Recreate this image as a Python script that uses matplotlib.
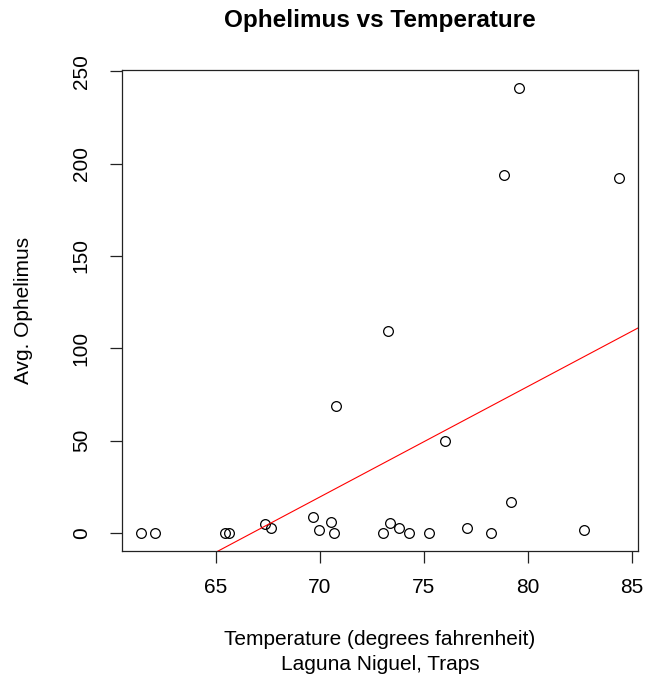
import matplotlib
matplotlib.use('Agg')
import matplotlib.pyplot as plt
import numpy as np

plt.rcParams['font.family'] = ['Liberation Sans', 'DejaVu Sans']

# average trap counts against temperature
temp = [61.39, 62.06, 65.45, 65.64, 67.34, 67.62, 69.67, 69.94, 70.54, 70.70,
        70.78, 73.03, 73.37, 73.80, 74.30, 75.27, 76.00, 77.10, 78.22, 79.18,
        82.72, 73.30, 78.85, 79.57, 84.39]
ophelimus = [0, 0, 0, 0, 5.1, 2.7, 8.5, 1.6, 6.3, 0,
             69, 0, 5.6, 2.9, 0, 0, 50, 2.9, 0, 17,
             1.5, 109.4, 194, 241, 192]
xticks = [65, 70, 75, 80, 85]
yticks = [0, 50, 100, 150, 200, 250]

x = np.array(temp)
y = np.array(ophelimus)

fig = plt.figure(figsize=(6.47, 6.83), dpi=100)
ax = fig.add_axes([0.1886, 0.1933, 0.7974, 0.7042])

ax.plot(x, y, 'o', mfc='none', mec='black', ms=7, mew=0.9)

# least squares line across the full plot width
slope, intercept = np.polyfit(x, y, 1)
xl = np.array([55, 90])
ax.plot(xl, intercept + slope * xl, color='red', lw=0.8)

# R-style 4% padding
xr = x.max() - x.min()
yr = y.max() - y.min()
ax.set_xlim(x.min() - 0.04 * xr, x.max() + 0.04 * xr)
ax.set_ylim(y.min() - 0.04 * yr, y.max() + 0.04 * yr)

ax.set_xticks(xticks)
ax.set_yticks(yticks)
ax.set_yticklabels([str(t) for t in yticks], rotation=90, va='center')
ax.tick_params(direction='out', length=8.5, width=0.9, labelsize=15,
               colors='#222222', labelcolor='black')
ax.tick_params(axis='x', pad=11)
ax.tick_params(axis='y', pad=14)
for s in ax.spines.values():
    s.set_linewidth(0.9)
    s.set_color('#222222')

ax.set_title('Ophelimus vs Temperature', fontsize=17.5, fontweight='bold', pad=31)
ax.set_xlabel('Temperature (degrees fahrenheit)\nLaguna Niguel, Traps',
              fontsize=15, labelpad=24, linespacing=1.35)
ax.set_ylabel('Avg. Ophelimus', fontsize=15, labelpad=28)

plt.savefig('out.png', dpi=100)
